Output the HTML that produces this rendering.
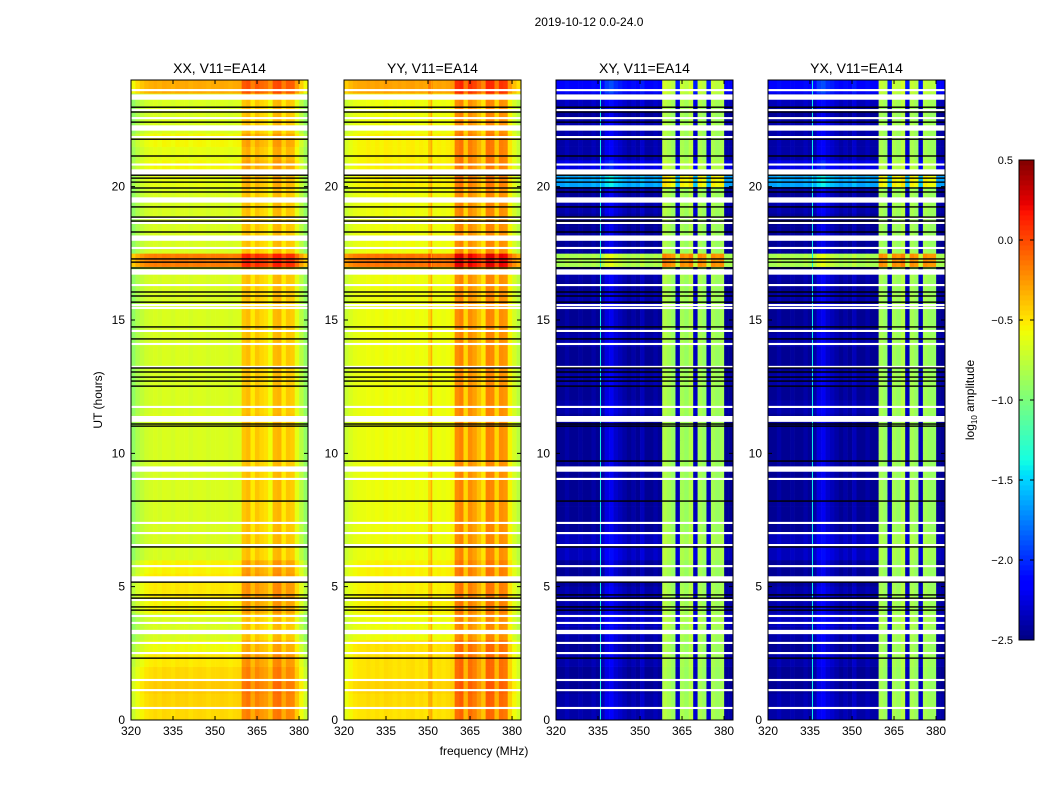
<!DOCTYPE html>
<html><head><meta charset="utf-8"><style>
body{margin:0;background:#fff;}
svg{display:block;font-family:"Liberation Sans",sans-serif;}
</style></head><body>
<svg id="fig" width="1050" height="800" viewBox="0 0 1050 800">
<rect width="1050" height="800" fill="#fff"/>
<text x="589" y="26" font-size="12" text-anchor="middle">2019-10-12 0.0-24.0</text>
<text x="484" y="755" font-size="12" text-anchor="middle">frequency (MHz)</text>
<text transform="translate(102,400) rotate(-90)" font-size="12" text-anchor="middle">UT (hours)</text>
<g id="panels"></g>
<g id="cbar"></g>
</svg>
<script>
// ---- data ----
const panelTitles = ["XX, V11=EA14","YY, V11=EA14","XY, V11=EA14","YX, V11=EA14"];
const xTicks = [320,335,350,365,380];
const yTicks = [0,5,10,15,20];
const cbTicks = [0.5,0.0,-0.5,-1.0,-1.5,-2.0,-2.5];
// 40 channels of 1.58 MHz from 320 MHz, log10 amplitude profile
const chanXX = [-0.92,-0.82,-0.75,-0.7,-0.68,-0.66,-0.68,-0.65,-0.66,-0.68,-0.65,-0.66,-0.65,-0.68,-0.66,-0.65,-0.66,-0.68,-0.66,-0.66,-0.65,-0.66,-0.68,-0.66,-0.65,-0.4,-0.36,-0.52,-0.4,-0.45,-0.48,-0.58,-0.36,-0.34,-0.52,-0.4,-0.42,-0.62,-0.78,-0.92];
const chanYY = [-0.72,-0.66,-0.62,-0.6,-0.6,-0.58,-0.6,-0.58,-0.6,-0.57,-0.58,-0.6,-0.58,-0.6,-0.58,-0.57,-0.6,-0.58,-0.6,-0.45,-0.6,-0.58,-0.6,-0.58,-0.55,-0.22,-0.18,-0.45,-0.22,-0.28,-0.38,-0.5,-0.18,-0.2,-0.45,-0.22,-0.25,-0.55,-0.68,-0.78];
const chanXY = [-2.45,-2.45,-2.4,-2.45,-2.45,-2.42,-2.45,-2.45,-2.4,-2.45,-2.4,-2.25,-2.2,-2.3,-2.35,-2.4,-2.45,-2.4,-2.45,-2.35,-2.45,-2.45,-2.4,-2.45,-0.8,-0.85,-0.9,-2.35,-0.85,-0.9,-0.8,-2.35,-0.85,-0.9,-2.35,-0.85,-0.9,-0.85,-2.45,-2.45];
const chanYX = [-2.45,-2.45,-2.4,-2.45,-2.45,-2.42,-2.45,-2.45,-2.4,-2.45,-2.4,-2.25,-2.2,-2.3,-2.35,-2.4,-2.45,-2.4,-2.45,-2.35,-2.45,-2.45,-2.4,-2.45,-2.45,-0.85,-0.9,-2.35,-0.85,-0.9,-0.8,-2.35,-0.85,-0.9,-2.35,-0.85,-0.9,-0.9,-2.45,-2.45];
// 48 half-hour offsets (from 0 h)
const timeXX = [0.2,0.22,0.25,0.2,0.15,0.08,0,0,0.12,0.15,0.15,0.12,0,0,0,0,0,0,0,0,0,0,0.02,0,0,0,0,0,0,0,0,0,0,0,0.5,0,0,0,0,0,0.05,0.1,0.05,0.1,0,0,0,0.35];
const timeYY = [0.1,0.12,0.15,0.1,0.1,0.1,0,0,0.05,0.05,0.05,0.05,0,0,0,0,0,0,0,0,0,0,0,0,0,0,0,0,0,0,0,0,0,0,0.45,0,0,0,0,0,0.05,0.05,0.05,0.05,0,0,0,0.3];
const timeX = [0.05,0.05,0,0,0.05,0,0.05,0.1,0.05,0.05,0,0,0.1,0.1,0,0,0,0,0,0,0,0,0,0.05,0,0.05,0,0,0.05,0,0,0.05,0,0.05,1.6,0,0,0,0.05,0,0.8,0.2,0.05,0.05,0.05,0,0.1,0.3];
// flagged (white) rows: hour and width (h)
const flagHours = [23.62,23.36,22.87,22.57,22.2,21.86,20.83,20.55,19.5,18.82,18.64,18.07,17.7,16.8,16.31,15.56,15.45,14.59,14.1,13.24,11.74,11.29,9.41,9.04,7.39,7.01,6.56,5.77,5.29,4.5,3.9,3.64,3.3,2.89,2.51,1.5,1.12,0.45];
const flagWidths = [0.08,0.2,0.08,0.08,0.2,0.08,0.08,0.2,0.2,0.08,0.08,0.2,0.08,0.2,0.08,0.08,0.08,0.08,0.08,0.08,0.08,0.22,0.2,0.08,0.08,0.08,0.08,0.08,0.2,0.08,0.08,0.08,0.16,0.08,0.08,0.08,0.08,0.08];
// black separator lines (hours)
const blackHours = [22.98,22.8,22.42,21.78,21.15,20.43,20.32,20.17,19.95,19.8,19.24,18.86,18.71,18.3,17.29,17.17,16.95,16.05,15.9,15.67,14.74,14.29,13.2,13.05,12.86,12.71,12.52,11.1,11.02,9.71,8.21,6.49,5.17,4.69,4.57,4.24,4.12,2.32];
// spike channels (MHz) per panel
const spikeFreq = [null,351,335.7,335.7];
const spikeVal = [null,-0.3,-1.4,-1.4];

// ---- helpers ----
const NS="http://www.w3.org/2000/svg";
const px0s=[131,344,556,768], PW=177, PT=80, PB=720;
const FMIN=320, FMAX=383.2, NCH=40, CW=(FMAX-FMIN)/NCH;
const xs=(p,f)=>px0s[p]+(f-FMIN)*PW/(FMAX-FMIN);
const ys=h=>PB-h*(PB-PT)/24;
const VMIN=-2.5,VMAX=0.5;
function seg(pts,t){for(let i=1;i<pts.length;i++){if(t<=pts[i][0]){const a=pts[i-1],b=pts[i];return a[1]+(b[1]-a[1])*(t-a[0])/(b[0]-a[0]);}}return pts[pts.length-1][1];}
const JR=[[0,0],[0.35,0],[0.66,1],[0.89,1],[1,0.5]];
const JG=[[0,0],[0.125,0],[0.375,1],[0.64,1],[0.91,0],[1,0]];
const JB=[[0,0.5],[0.11,1],[0.34,1],[0.65,0],[1,0]];
function jet(v){let t=(v-VMIN)/(VMAX-VMIN);t=Math.max(0,Math.min(1,t));
 const c=x=>Math.round(255*Math.max(0,Math.min(1,x)));
 return `rgb(${c(seg(JR,t))},${c(seg(JG,t))},${c(seg(JB,t))})`;}
function el(tag,attrs,parent){const e=document.createElementNS(NS,tag);for(const k in attrs)e.setAttribute(k,attrs[k]);parent.appendChild(e);return e;}
const chans=[chanXX,chanYY,chanXY,chanYX];
const times=[timeXX,timeYY,timeX,timeX];
const G=document.getElementById('panels');
for(let p=0;p<4;p++){
 const g=el('g',{},G);
 
 
 for(let r=0;r<48;r++){
  for(let i=0;i<NCH;i++){
   const v=chans[p][i]+times[p][r]*(p>=2&&chans[p][i]>-1.5?0.4:1);
   const x0=xs(p,FMIN+i*CW),x1=xs(p,FMIN+(i+1)*CW);
   const y0=ys((r+1)/2),y1=ys(r/2);
   const c=el('rect',{x:x0.toFixed(2),y:y0.toFixed(2),width:(x1-x0+0.3).toFixed(2),height:(y1-y0+0.3).toFixed(2),fill:jet(v)},g);
   
   
  }
 }
 if(spikeFreq[p]!==null){
  const s=el('rect',{x:xs(p,spikeFreq[p]).toFixed(2),y:PT,width:1,height:PB-PT,fill:jet(spikeVal[p])},g);
  
  
 }
 flagHours.forEach((h,k)=>{
  const w=flagWidths[k];
  const f=el('rect',{x:px0s[p],y:ys(h+w/2).toFixed(2),width:PW,height:(ys(h-w/2)-ys(h+w/2)).toFixed(2),fill:'#fff'},g);
  
  
 });
 blackHours.forEach(h=>{
  const l=el('rect',{x:px0s[p],y:(ys(h)-0.7).toFixed(2),width:PW,height:1.4,fill:'#000'},g);
  
  
 });
 const fr=el('rect',{x:px0s[p],y:PT,width:PW,height:PB-PT,fill:'none',stroke:'#000','stroke-width':1},g);
 
 
 const t=el('text',{x:px0s[p]+PW/2,y:73,'font-size':14,'text-anchor':'middle'},g);
 t.textContent=panelTitles[p];
 
 
 xTicks.forEach(f=>{
  const x=xs(p,f);
  const tk=el('path',{d:`M${x},${PB}v-4M${x},${PT}v4`,stroke:'#000'},g);
  
  
  const tl=el('text',{x:x,y:PB+15,'font-size':12,'text-anchor':'middle'},g);
  tl.textContent=f;
  
  
 });
 yTicks.forEach(h=>{
  const y=ys(h);
  const tk=el('path',{d:`M${px0s[p]},${y}h4M${px0s[p]+PW},${y}h-4`,stroke:'#000'},g);
  
  
  const tl=el('text',{x:px0s[p]-6,y:y+4,'font-size':12,'text-anchor':'end'},g);
  tl.textContent=h;
  
  
 });
}
// colorbar
const CB=document.getElementById('cbar');
const cbx=1019,cbw=15,cbt=160,cbb=640,N=96;
for(let k=0;k<N;k++){
 const v=VMIN+(k+0.5)*(VMAX-VMIN)/N;
 const y=cbb-(k+1)*(cbb-cbt)/N;
 const r=el('rect',{x:cbx,y:y.toFixed(2),width:cbw,height:((cbb-cbt)/N+0.4).toFixed(2),fill:jet(v)},CB);
 
 
}
const cf=el('rect',{x:cbx,y:cbt,width:cbw,height:cbb-cbt,fill:'none',stroke:'#000'},CB);


cbTicks.forEach(v=>{
 const y=cbb-(v-VMIN)*(cbb-cbt)/(VMAX-VMIN);
 const tk=el('path',{d:`M${cbx},${y}h4M${cbx+cbw},${y}h-4`,stroke:'#000'},CB);
 
 
 const tl=el('text',{x:1013,y:y+4,'font-size':11,'text-anchor':'end'},CB);
 tl.textContent=(v<0?'\u2212':'')+Math.abs(v).toFixed(1);
 
 
});
const cl=el('text',{transform:'translate(974,400) rotate(-90)','font-size':12,'text-anchor':'middle'},CB);
cl.innerHTML='log<tspan font-size="8" dy="3">10</tspan><tspan dy="-3"> amplitude</tspan>';


</script>
</body></html>
